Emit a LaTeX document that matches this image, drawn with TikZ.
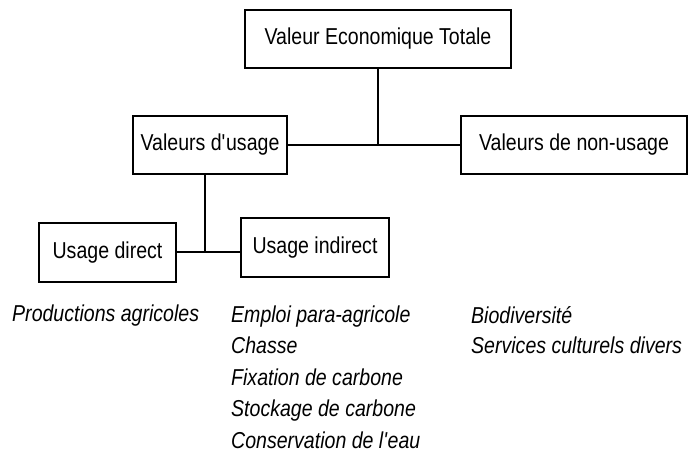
\documentclass[tikz,border=0pt]{standalone}
\usepackage{fontspec}
\setmainfont[FakeStretch=0.85]{Liberation Sans}
\begin{document}
\begin{tikzpicture}[x=1pt,y=-1pt,
  box/.style={draw, line width=1.4pt, minimum height=58pt, inner sep=0pt,
    font=\fontsize{23}{28}\selectfont},
  item/.style={anchor=base west, inner sep=0pt, font=\fontsize{23}{28}\selectfont\itshape},
  link/.style={line width=1.4pt}]
\useasboundingbox[fill=white] (0,0) rectangle (698,453);
\node[box, minimum width=266pt] (vet) at (378,39) {Valeur Economique Totale};
\node[box, minimum width=154pt] (vu) at (210,145) {Valeurs d\textquotesingle usage};
\node[box, minimum width=226pt] (vnu) at (574,145) {Valeurs de non-usage};
\node[box, minimum width=137pt, minimum height=59pt] (ud) at (107.5,252.5) {Usage direct};
\node[box, minimum width=148pt, minimum height=59pt] (ui) at (315,247.5) {Usage indirect};
\coordinate (j) at (205,252);
\draw[link] (vu.east) -- (vnu.west);
\draw[link] (vet.south) -- (vet.south |- vu.east);
\draw[link] (vu.south -| j) -- (j);
\draw[link] (ud.east |- j) -- (ui.west |- j);
\node[item] (pa) at (12,321) {Productions agricoles};
\node[item] (ep) at (231,322) {Emploi para-agricole};
\node[item] (ch) at (231,353.5) {Chasse};
\node[item] (fc) at (231,385) {Fixation de carbone};
\node[item] (sc) at (231,416.5) {Stockage de carbone};
\node[item] (ce) at (231,448) {Conservation de l\textquotesingle eau};
\node[item] (bd) at (471,323) {Biodiversité};
\node[item] (scd) at (471,353) {Services culturels divers};
\end{tikzpicture}
\end{document}
